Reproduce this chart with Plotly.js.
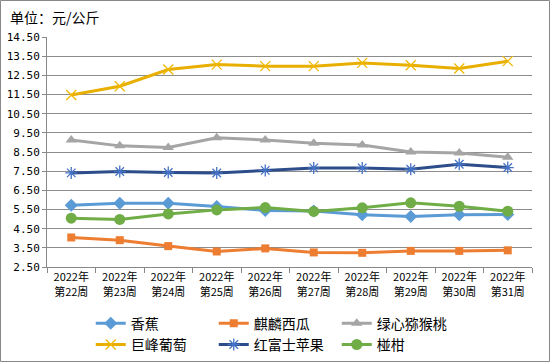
<!DOCTYPE html>
<html>
<head>
<meta charset="utf-8">
<script src="https://cdn.plot.ly/plotly-3.0.1.min.js"></script>
<style>html,body{margin:0;padding:0;background:#fff;}#chart{width:550px;height:362px;}</style>
</head>
<body>
<div id="chart"></div>
<script>
const weeks = ["2022年<br>第22周","2022年<br>第23周","2022年<br>第24周","2022年<br>第25周","2022年<br>第26周","2022年<br>第27周","2022年<br>第28周","2022年<br>第29周","2022年<br>第30周","2022年<br>第31周"];
const banana     = [5.72, 5.83, 5.83, 5.66, 5.45, 5.42, 5.22, 5.13, 5.22, 5.24];
const watermelon = [4.04, 3.90, 3.59, 3.31, 3.47, 3.26, 3.24, 3.34, 3.34, 3.37];
const kiwi       = [9.13, 8.82, 8.73, 9.24, 9.13, 8.96, 8.86, 8.50, 8.45, 8.23];
const grape      = [11.47, 11.93, 12.80, 13.06, 12.98, 12.98, 13.15, 13.03, 12.86, 13.24];
const apple      = [7.41, 7.48, 7.43, 7.40, 7.54, 7.67, 7.67, 7.60, 7.86, 7.69];
const mandarin   = [5.05, 4.98, 5.27, 5.48, 5.60, 5.40, 5.59, 5.85, 5.67, 5.41];
const yTicks = [2.5, 3.5, 4.5, 5.5, 6.5, 7.5, 8.5, 9.5, 10.5, 11.5, 12.5, 13.5, 14.5];

function tr(name, y, lineColor, markerColor, symbol, size, lineOpen) {
  const marker = {symbol: symbol, size: size, color: markerColor};
  if (lineOpen) marker.line = {color: markerColor, width: 1.3};
  return {type: 'scatter', mode: 'lines+markers', name: name, x: weeks, y: y,
    line: {color: lineColor, width: 3}, marker: marker, hoverinfo: 'skip'};
}

const data = [
  tr('香蕉', banana, '#5B9BD5', '#5B9BD5', 'diamond', 10),
  tr('麒麟西瓜', watermelon, '#ED7D31', '#ED7D31', 'square', 8),
  tr('绿心猕猴桃', kiwi, '#A5A5A5', '#A5A5A5', 'triangle-up', 10),
  tr('巨峰葡萄', grape, '#E8AF00', '#F0B800', 'x-thin-open', 10, true),
  tr('红富士苹果', apple, '#2C4D8A', '#4472C4', 'asterisk-open', 10, true),
  tr('椪柑', mandarin, '#70AD47', '#70AD47', 'circle', 11)
];

const layout = {
  width: 550, height: 362,
  margin: {l: 47, r: 18, t: 37, b: 95, autoexpand: false},
  paper_bgcolor: '#fff', plot_bgcolor: '#fff',
  font: {family: "'Noto Sans CJK SC', sans-serif", size: 12, color: '#000'},
  showlegend: true,
  legend: {orientation: 'h', xref: 'container', yref: 'container', x: 0.165, y: 0.15,
    xanchor: 'left', yanchor: 'top',
    entrywidth: 78, entrywidthmode: 'pixels', tracegroupgap: 0,
    font: {size: 14, color: '#000'}},
  xaxis: {type: 'category', showgrid: false, showline: true, linecolor: '#888', linewidth: 1,
    ticks: 'outside', ticklen: 5, tickcolor: '#888', tickson: 'boundaries',
    tickfont: {size: 11, color: '#000'}, range: [-0.5, 9.5], fixedrange: true},
  yaxis: {range: [2.5, 14.5], tickmode: 'array', tickvals: yTicks,
    ticktext: yTicks.map(v => v.toFixed(2)), showgrid: true, gridcolor: '#8c8c8c', gridwidth: 1,
    showline: true, linecolor: '#888', linewidth: 1, ticks: 'outside', ticklen: 4, tickcolor: '#888',
    tickfont: {size: 11, color: '#000', family: "'DejaVu Sans Mono', monospace"}, zeroline: false, fixedrange: true},
  annotations: [{text: '单位：元/公斤', xref: 'paper', yref: 'paper', x: -0.0804, y: 1.087,
    xanchor: 'left', yanchor: 'middle', showarrow: false, font: {size: 14, color: '#000'}}],
  shapes: [{type: 'rect', xref: 'paper', yref: 'paper', x0: -0.0959, x1: 1.0361, y0: -0.4109, y1: 1.1587,
    line: {color: '#888', width: 1}, fillcolor: 'rgba(0,0,0,0)', layer: 'below'}]
};
Plotly.newPlot('chart', data, layout, {staticPlot: true, displayModeBar: false});
</script>
</body>
</html>
